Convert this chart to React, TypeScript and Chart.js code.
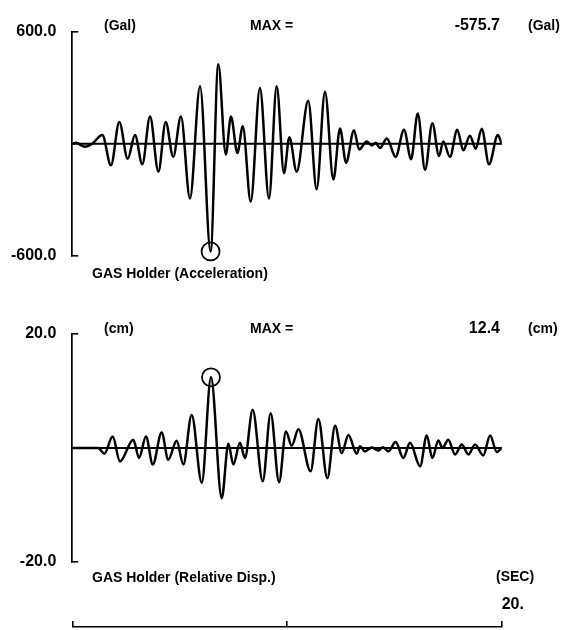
import { useEffect, useRef } from "react";
import { Chart, registerables } from "chart.js";

Chart.register(...registerables);

// ---------- data ----------
const accTime = [0, 0.17, 0.59, 0.92, 1.4, 1.8, 2.19, 2.58, 2.92, 3.26, 3.62, 4.01, 4.35, 4.7, 5.06, 5.48, 5.95, 6.44, 6.8, 7.15, 7.39, 7.69, 7.94, 8.31, 8.74, 9.16, 9.52, 9.86, 10.11, 10.45, 10.99, 11.38, 11.77, 12.16, 12.47, 12.75, 13.12, 13.36, 13.71, 13.95, 14.13, 14.33, 14.65, 15.06, 15.45, 15.78, 16.09, 16.43, 16.77, 17.08, 17.28, 17.59, 17.93, 18.21, 18.52, 18.79, 19.07, 19.41, 19.82, 20];
const accValues = [0, 5, -16, 0, 47, -115, 117, -80, 47, -110, 146, -149, 117, -69, 146, -292, 308, -575.7, 425, -57, 146, -49, 94, -309, 299, -292, 308, -157, 35, -149, 230, -243, 279, -191, 82, -101, 72, -30, 12, -9, 5, -23, 29, -70, 75, -82, 162, -139, 110, -65, 12, -70, 75, -35, 43, -26, 81, -110, 47, 0];

const dispTime = [0, 1.2, 1.49, 1.88, 2.22, 2.84, 3.11, 3.43, 3.75, 4.16, 4.47, 4.86, 5.17, 5.56, 6.03, 6.46, 6.96, 7.27, 7.5, 7.81, 8.04, 8.4, 8.87, 9.24, 9.63, 9.95, 10.22, 10.53, 11.1, 11.46, 11.88, 12.24, 12.55, 12.86, 13.25, 13.4, 13.63, 13.95, 14.25, 14.47, 14.72, 15.06, 15.42, 15.73, 16.2, 16.51, 16.77, 17.05, 17.24, 17.51, 17.83, 18.14, 18.45, 18.76, 19.14, 19.46, 19.77, 20];
const dispValues = [0, 0, -1.0, 2.0, -2.35, 1.46, -1.75, 2.0, -2.9, 2.7, -2.05, 1.28, -2.9, 5.8, -6.1, 12.4, -8.8, 0.75, -2.9, 0.9, -1.75, 6.7, -5.85, 6.1, -6.0, 2.9, 0.4, 3.3, -4.1, 5.1, -5.3, 3.9, -0.9, 2.3, -1.0, 0.3, -0.6, 0.1, -0.45, 0.15, -0.6, 1.05, -1.75, 0.9, -3.2, 2.2, -1.75, 1.3, 0, 1.45, -1.15, 0.6, -1.15, 0.6, -1.3, 2.2, -0.7, 0];

const accMaxTime = [6.44];
const accMaxValue = [-575.7];
const dispMaxTime = [6.46];
const dispMaxValue = [12.4];

const accTicks = [-600, 600];
const dispTicks = [-20, 20];
const timeTicks = [0, 10, 20];
const timeTickLabels = ["", "", "20."];
const timeRange = [0, 20];

const accUnit = "(Gal)";
const dispUnit = "(cm)";
const maxLabel = "MAX =";
const accTitle = "GAS Holder (Acceleration)";
const dispTitle = "GAS Holder (Relative Disp.)";
const timeUnit = "(SEC)";

// ---------- layout ----------
const FONT = '"Liberation Sans", Arial, Helvetica, sans-serif';
const W = 582;
const AXIS_LEFT = 72.3;
const AXIS_RIGHT = 501.7;
const TEXT_SIZE = 14;
const NUM_SIZE = 16;
const WEIGHT = "bold";

type Txt = { text: string; x: number; y: number; align: CanvasTextAlign; size?: number };

function textPlugin(items: Txt[]) {
  return {
    id: "freeText",
    afterDraw(chart: any) {
      const ctx = chart.ctx as CanvasRenderingContext2D;
      ctx.save();
      ctx.fillStyle = "#000";
      ctx.textBaseline = "middle";
      for (const it of items) {
        ctx.font = `${WEIGHT} ${it.size ?? TEXT_SIZE}px ${FONT}`;
        ctx.textAlign = it.align;
        ctx.fillText(it.text, it.x, it.y);
      }
      ctx.restore();
    },
  };
}

function waveConfig(
  time: number[],
  values: number[],
  maxT: number[],
  maxV: number[],
  ticks: number[],
  top: number,
  bottom: number,
  canvasH: number,
  texts: Txt[]
): any {
  return {
    type: "line",
    data: {
      datasets: [
        {
          data: time.map((t, i) => ({ x: t, y: values[i] })),
          borderColor: "#000",
          borderWidth: 2.5,
          borderJoinStyle: "round",
          borderCapStyle: "round",
          pointRadius: 0,
          cubicInterpolationMode: "monotone",
          fill: false,
        },
        {
          data: timeRange.map((t) => ({ x: t, y: 0 })),
          borderColor: "#000",
          borderWidth: 2,
          pointRadius: 0,
          fill: false,
        },
        {
          data: maxT.map((t, i) => ({ x: t, y: maxV[i] })),
          showLine: false,
          pointRadius: 9,
          pointBorderWidth: 1.8,
          pointBorderColor: "#000",
          pointBackgroundColor: "rgba(0,0,0,0)",
          clip: false,
        },
      ],
    },
    options: {
      responsive: false,
      animation: false,
      events: [],
      layout: { padding: { left: 0, right: W - AXIS_RIGHT, top, bottom: canvasH - bottom } },
      plugins: { legend: { display: false }, tooltip: { enabled: false }, title: { display: false } },
      scales: {
        x: { type: "linear", min: timeRange[0], max: timeRange[1], display: false },
        y: {
          type: "linear",
          min: ticks[0],
          max: ticks[ticks.length - 1],
          afterFit: (s: any) => {
            s.width = AXIS_LEFT;
          },
          afterBuildTicks: (s: any) => {
            s.ticks = ticks.map((v) => ({ value: v }));
          },
          ticks: {
            callback: (v: any) => Number(v).toFixed(1),
            color: "#000",
            font: { family: FONT, size: NUM_SIZE, weight: WEIGHT },
            padding: 22,
          },
          grid: { drawOnChartArea: false, drawTicks: true, tickLength: -6, color: "#000", lineWidth: 1.6 },
          border: { display: true, color: "#000", width: 1.7 },
        },
      },
    },
    plugins: [textPlugin(texts)],
  };
}

function timeConfig(axisY: number): any {
  return {
    type: "line",
    data: { datasets: [] },
    options: {
      responsive: false,
      animation: false,
      events: [],
      layout: { padding: { left: AXIS_LEFT, right: W - AXIS_RIGHT, top: 0, bottom: 0 } },
      plugins: { legend: { display: false }, tooltip: { enabled: false } },
      scales: {
        x: {
          type: "linear",
          position: "top",
          min: timeRange[0],
          max: timeRange[1],
          afterFit: (s: any) => {
            s.height = axisY;
          },
          afterBuildTicks: (s: any) => {
            s.ticks = timeTicks.map((v) => ({ value: v }));
          },
          ticks: {
            callback: (_v: any, i: number) => timeTickLabels[i],
            align: "start",
            maxRotation: 0,
            autoSkip: false,
            padding: 7,
            color: "#000",
            font: { family: FONT, size: NUM_SIZE, weight: WEIGHT },
          },
          grid: { drawOnChartArea: false, tickLength: 6, color: "#000", lineWidth: 1.6 },
          border: { display: true, color: "#000", width: 1.6 },
        },
        y: { display: false },
      },
    },
  };
}

const A_TOP = 0, A_H = 290;
const B_TOP = 290, B_H = 310;
const C_TOP = 585, C_H = 45;

export default function App() {
  const aRef = useRef<HTMLCanvasElement>(null);
  const bRef = useRef<HTMLCanvasElement>(null);
  const cRef = useRef<HTMLCanvasElement>(null);

  useEffect(() => {
    const accTexts: Txt[] = [
      { text: accUnit, x: 104, y: 26, align: "left" },
      { text: maxLabel, x: 250, y: 26, align: "left" },
      { text: accMaxValue[0].toFixed(1), x: 500, y: 26, align: "right", size: NUM_SIZE },
      { text: accUnit, x: 528, y: 26, align: "left" },
      { text: accTitle, x: 92, y: 274, align: "left" },
    ];
    const dispTexts: Txt[] = [
      { text: dispUnit, x: 104, y: 329 - B_TOP, align: "left" },
      { text: maxLabel, x: 250, y: 329 - B_TOP, align: "left" },
      { text: dispMaxValue[0].toFixed(1), x: 500, y: 329 - B_TOP, align: "right", size: NUM_SIZE },
      { text: dispUnit, x: 528, y: 329 - B_TOP, align: "left" },
      { text: dispTitle, x: 92, y: 578 - B_TOP, align: "left" },
      { text: timeUnit, x: 496, y: 577 - B_TOP, align: "left" },
    ];
    const a = new Chart(aRef.current!, waveConfig(accTime, accValues, accMaxTime, accMaxValue, accTicks, 26 - A_TOP, 256 - A_TOP, A_H, accTexts));
    const b = new Chart(bRef.current!, waveConfig(dispTime, dispValues, dispMaxTime, dispMaxValue, dispTicks, 334 - B_TOP, 562 - B_TOP, B_H, dispTexts));
    const c = new Chart(cRef.current!, timeConfig(627 - C_TOP));
    return () => {
      a.destroy();
      b.destroy();
      c.destroy();
    };
  }, []);

  const cs = (top: number, h: number): any => ({ position: "absolute", left: 0, top, width: W, height: h });

  return (
    <div style={{ position: "absolute", left: 0, top: 0, width: W, height: 630, background: "#fff" }}>
      <canvas ref={aRef} width={W} height={A_H} style={cs(A_TOP, A_H)} />
      <canvas ref={bRef} width={W} height={B_H} style={cs(B_TOP, B_H)} />
      <canvas ref={cRef} width={W} height={C_H} style={cs(C_TOP, C_H)} />
    </div>
  );
}
